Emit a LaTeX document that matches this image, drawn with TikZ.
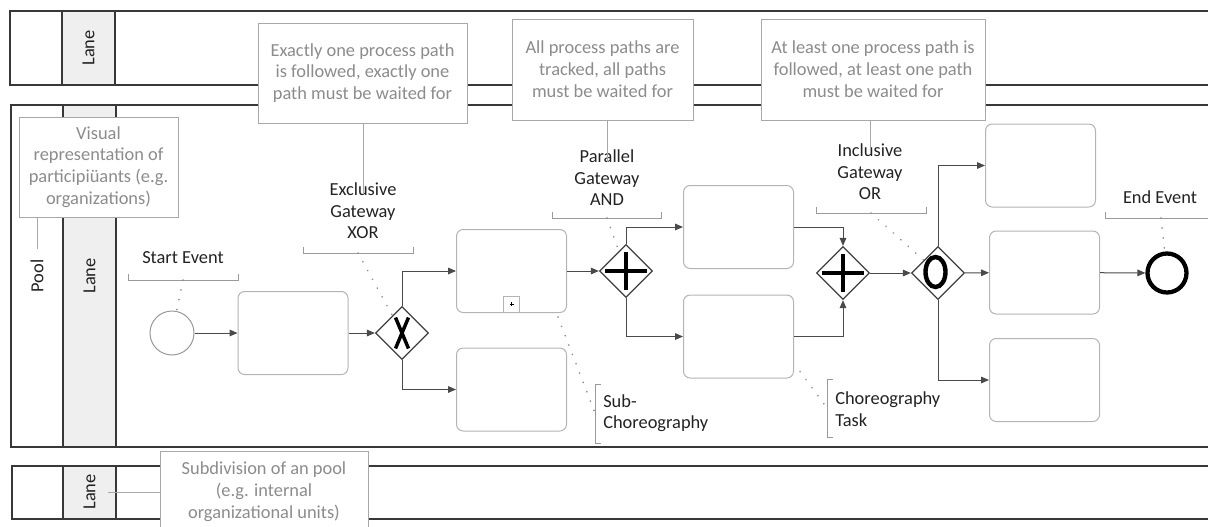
\documentclass[tikz,border=0pt]{standalone}
\usepackage{fontspec}
\setmainfont{Carlito}
\usetikzlibrary{shapes.geometric,arrows.meta}
\definecolor{poolc}{HTML}{383838}
\definecolor{lanefill}{HTML}{EFEFEF}
\definecolor{taskc}{HTML}{B4B4B4}
\definecolor{flowc}{HTML}{4A4A4A}
\definecolor{gwc}{HTML}{404040}
\definecolor{callc}{HTML}{A8A8A8}
\definecolor{calltxt}{HTML}{8C8C8C}
\definecolor{dotc}{HTML}{8A8A8A}
\definecolor{brkc}{HTML}{9A9A9A}
\definecolor{lbl}{HTML}{222222}
\def\pxu{0.75pt}
\begin{document}
\begin{tikzpicture}[x=0.75pt,y=-0.75pt,
  txt/.style={font=\fontsize{13.8}{16.2}\selectfont, text=lbl, inner sep=0pt, align=center},
  poolline/.style={draw=poolc, line width=1.1pt},
  lanecol/.style={draw=poolc, fill=lanefill, line width=1.1pt},
  task/.style={draw=taskc, fill=white, line width=0.75pt, rounded corners=5pt,
    minimum width=110*\pxu, minimum height=83*\pxu, inner sep=0pt},
  gw/.style={diamond, draw=gwc, fill=white, line width=1pt, minimum size=53*\pxu, inner sep=0pt},
  gwmark/.style={draw=black, line width=2.6pt},
  flow/.style={draw=flowc, line width=0.75pt, -{Triangle[length=6pt,width=5pt]}},
  callout/.style={draw=callc, fill=white, line width=0.75pt, text=calltxt, align=center,
    inner sep=0pt, font=\fontsize{13.8}{16.4}\selectfont},
  callline/.style={draw=callc, line width=0.75pt},
  dotl/.style={draw=dotc, line width=1.3pt, line cap=round, dash pattern=on 0.1pt off 7.4pt},
  brk/.style={draw=brkc, line width=0.75pt}]
\useasboundingbox (0,0) rectangle (1208,526);

% ---- pools and lanes ----
\draw[poolline] (1220,11) -- (10,11) -- (10,85) -- (1220,85);
\draw[lanecol] (62,11) rectangle (115,85);
\node[txt, rotate=90] (laneA) at (88.5,48) {Lane};

\draw[poolline] (1220,105) -- (11,105) -- (11,447) -- (1220,447);
\draw[lanecol] (63,105) rectangle (116,447);
\node[txt, rotate=90] (laneB) at (89.5,276) {Lane};
\node[txt, rotate=90] (pool) at (37,276) {Pool};

\draw[poolline] (1220,466) -- (12,466) -- (12,519) -- (1220,519);
\draw[lanecol] (63,466) rectangle (116,519);
\node[txt, rotate=90] (laneC) at (89.5,492) {Lane};

% ---- flow elements ----
\node[circle, draw=taskc!85!black, line width=0.75pt, fill=white, minimum size=44*\pxu, inner sep=0pt] (start) at (172,333) {};
\node[task] (t1) at (293,333) {};
\node[gw] (xor) at (402,333) {};
\node[task] (t2) at (511.5,271) {};
\node[draw=taskc, fill=white, line width=0.75pt, minimum width=16*\pxu, minimum height=16*\pxu, inner sep=0pt] (subm) at (511.5,304) {};
\node[task] (t3) at (511.5,389.5) {};
\node[gw] (and1) at (626,271) {};
\node[task] (t4) at (738.5,227) {};
\node[task] (t5) at (738.5,336.5) {};
\node[gw] (and2) at (843,273) {};
\node[gw] (or) at (938,273) {};
\node[task] (t6) at (1040.5,165.5) {};
\node[task] (t7) at (1044.5,272.5) {};
\node[task] (t8) at (1044.5,380) {};
\node[circle, draw=black, line width=3.2pt, fill=white, minimum size=39*\pxu, inner sep=0pt] (end) at (1167,273) {};

% gateway markers
\draw[gwmark] ([shift={(-6.5,-15.5)}]xor.center) -- ([shift={(6.5,15.5)}]xor.center);
\draw[gwmark] ([shift={(6.5,-15.5)}]xor.center) -- ([shift={(-6.5,15.5)}]xor.center);
\draw[gwmark, line width=3.4pt] ([xshift=-15.5]and1.center) -- ([xshift=15.5]and1.center);
\draw[gwmark, line width=3.4pt] ([yshift=-14]and1.center) -- ([yshift=14]and1.center);
\draw[gwmark, line width=3.4pt] ([xshift=-15.5]and2.center) -- ([xshift=15.5]and2.center);
\draw[gwmark, line width=3.4pt] ([yshift=-14]and2.center) -- ([yshift=14]and2.center);
\draw[gwmark, line width=3.3pt] ([shift={(-2.5,-1)}]or.center) ellipse [x radius=10, y radius=15];
\draw[line width=0.5pt] ([shift={(-2,0)}]subm.center) -- ([shift={(2,0)}]subm.center)
  ([shift={(0,-2)}]subm.center) -- ([shift={(0,2)}]subm.center);

% sequence flows
\draw[flow] (start) -- (t1);
\draw[flow] (t1) -- (xor);
\draw[flow] (xor.north) |- (t2.west);
\draw[flow] (xor.south) |- (t3.west);
\draw[flow] (t2) -- (and1);
\draw[flow] (and1.north) |- (t4.west);
\draw[flow] (and1.south) |- (t5.west);
\draw[flow] (t4.east) -| (and2.north);
\draw[flow] (t5.east) -| (and2.south);
\draw[flow] (and2) -- (or);
\draw[flow] (or.north) |- (t6.west);
\draw[flow] (or) -- (t7);
\draw[flow] (or.south) |- (t8.west);
\draw[flow] (t7) -- (end);

% ---- element labels with brackets ----
\node[txt] (lStart) at (183,258) {Start Event};
\draw[brk] (128,274) -- (128,280) -- (238,280) -- (238,274);
\coordinate (bStart) at (183,280);
\draw[dotl] (bStart) -- (start);

\node[txt] (lXor) at (363,211) {Exclusive\\Gateway\\XOR};
\draw[brk] (303,247) -- (303,253) -- (413,253) -- (413,247);
\coordinate (bXor) at (358,253);
\draw[dotl] (bXor) -- (xor);

\node[txt] (lAnd) at (607,178) {Parallel\\Gateway\\AND};
\draw[brk] (552,212) -- (552,218) -- (661,218) -- (661,212);
\coordinate (bAnd) at (607,218);
\draw[dotl] (bAnd) -- (and1);

\node[txt] (lOr) at (870,172) {Inclusive\\Gateway\\OR};
\draw[brk] (816,207) -- (816,213) -- (926,213) -- (926,207);
\coordinate (bOr) at (871,213);
\draw[dotl] (bOr) -- (or);

\node[txt] (lEnd) at (1160,197) {End Event};
\draw[brk] (1105,212) -- (1105,218) -- (1220,218);
\coordinate (bEnd) at (1161,218);
\draw[dotl] (bEnd) -- (end);

\node[txt, anchor=west, align=left] (lSub) at (603,413) {Sub-\\Choreography};
\draw[brk] (601,384) -- (595,384) -- (595,443) -- (601,443);
\coordinate (bSub) at (595,413);
\draw[dotl] ([shift={(-9,4)}]t2.south east) -- (bSub);

\node[txt, anchor=west, align=left] (lTask) at (835,409) {Choreography\\Task};
\draw[brk] (833,379) -- (827,379) -- (827,437) -- (833,437);
\coordinate (bTask) at (827,408);
\draw[dotl] ([shift={(6,-7)}]t5.south east) -- (bTask);

% ---- explanatory callouts ----
\node[callout, minimum width=209*\pxu, minimum height=100*\pxu] (c1) at (362.5,73)
  {Exactly one process path\\is followed, exactly one\\path must be waited for};
\draw[callline] (c1.south -| lXor.north) -- ([yshift=-8]lXor.north);

\node[callout, minimum width=181*\pxu, minimum height=101*\pxu] (c2) at (602.5,69.5)
  {All process paths are\\tracked, all paths\\must be waited for};
\draw[callline] (c2.south -| lAnd.north) -- ([yshift=-9]lAnd.north);

\node[callout, minimum width=224*\pxu, minimum height=101*\pxu] (c3) at (873,69.5)
  {At least one process path is\\followed, at least one path\\must be waited for};
\draw[callline] (c3.south -| lOr.north) -- ([yshift=-6]lOr.north);

\node[callout, minimum width=159*\pxu, minimum height=100*\pxu] (c4) at (98.5,167)
  {Visual\\representation of\\participiüants (e.g.\\organizations)};
\coordinate (poolTop) at (37,249);
\draw[callline] (c4.south -| poolTop) -- (poolTop);

\node[callout, minimum width=208*\pxu, minimum height=82*\pxu] (c5) at (264,492)
  {Subdivision of an pool\\(e.g. internal\\organizational units)};
\coordinate (laneTag) at (108,492);
\draw[callline] (laneTag) -- (c5.west);
\end{tikzpicture}
\end{document}
